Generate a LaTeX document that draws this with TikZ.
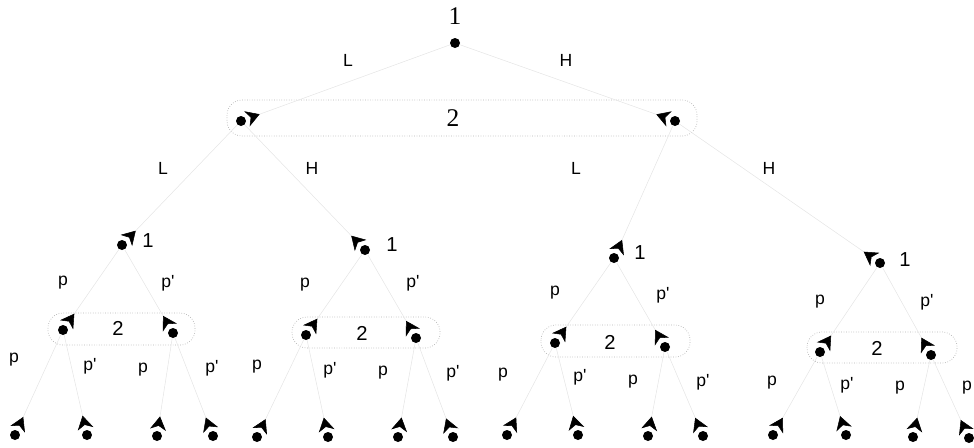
\documentclass[tikz,border=0pt]{standalone}
\usepackage{fontspec}
\setmainfont{Liberation Sans}
\newfontfamily\numserif{Liberation Serif}
\usetikzlibrary{arrows.meta}

\begin{document}
\begin{tikzpicture}[x=0.02cm, y=-0.02cm,
    vtx/.style={circle, fill, inner sep=0pt, minimum size=2mm},
    branch/.style={black!10, line width=0.3pt, -{Stealth[reversed, color=black, length=2.7mm, width=3.2mm, inset=0.8mm, sep=0.2mm]}},
    lab/.style={font=\fontsize{10}{12}\selectfont, inner sep=1pt},
    pl/.style={font=\fontsize{11.5}{13}\selectfont, inner sep=1pt},
    toppl/.style={font=\numserif\fontsize{14.5}{16}\selectfont, inner sep=1pt},
    infoset/.style={draw=black!30, densely dotted, rounded corners=3mm}
]
\useasboundingbox (0,0) rectangle (974,447);

% information sets
\draw[infoset] (227,100) rectangle (697,136);
\draw[infoset] (48,313) rectangle (195,345);
\draw[infoset] (292,317) rectangle (440,348);
\draw[infoset] (541,325) rectangle (690,357);
\draw[infoset] (807,332) rectangle (957,363);

% decision nodes
\node[vtx] (v) at (455,43) {};
\node[vtx] (vL) at (241,121) {};
\node[vtx] (vH) at (675,121) {};
\node[vtx] (vLL) at (122,245) {};
\node[vtx] (vLH) at (365,250) {};
\node[vtx] (vHL) at (614,258) {};
\node[vtx] (vHH) at (880,263) {};
\node[vtx] (vLLp) at (63,330) {};
\node[vtx] (vLLq) at (173,333) {};
\node[vtx] (vLHp) at (306,335) {};
\node[vtx] (vLHq) at (416,338) {};
\node[vtx] (vHLp) at (555,343) {};
\node[vtx] (vHLq) at (665,347) {};
\node[vtx] (vHHp) at (820,352) {};
\node[vtx] (vHHq) at (931,355) {};

% end nodes
\node[vtx] (vLLpp) at (15,435) {};
\node[vtx] (vLLpq) at (87,435) {};
\node[vtx] (vLLqp) at (157,436) {};
\node[vtx] (vLLqq) at (213,436) {};
\node[vtx] (vLHpp) at (257,437) {};
\node[vtx] (vLHpq) at (328,437) {};
\node[vtx] (vLHqp) at (398,437) {};
\node[vtx] (vLHqq) at (453,437) {};
\node[vtx] (vHLpp) at (507,435) {};
\node[vtx] (vHLpq) at (578,435) {};
\node[vtx] (vHLqp) at (648,436) {};
\node[vtx] (vHLqq) at (703,436) {};
\node[vtx] (vHHpp) at (773,435) {};
\node[vtx] (vHHpq) at (846,435) {};
\node[vtx] (vHHqp) at (913,437) {};
\node[vtx] (vHHqq) at (969,438) {};

% branches
\draw[branch] (v) -- (vL);
\draw[branch] (v) -- (vH);
\draw[branch] (vL) -- (vLL);
\draw[branch] (vL) -- (vLH);
\draw[branch] (vH) -- (vHL);
\draw[branch] (vH) -- (vHH);
\draw[branch] (vLL) -- (vLLp);
\draw[branch] (vLL) -- (vLLq);
\draw[branch] (vLH) -- (vLHp);
\draw[branch] (vLH) -- (vLHq);
\draw[branch] (vHL) -- (vHLp);
\draw[branch] (vHL) -- (vHLq);
\draw[branch] (vHH) -- (vHHp);
\draw[branch] (vHH) -- (vHHq);
\draw[branch] (vLLp) -- (vLLpp);
\draw[branch] (vLLp) -- (vLLpq);
\draw[branch] (vLLq) -- (vLLqp);
\draw[branch] (vLLq) -- (vLLqq);
\draw[branch] (vLHp) -- (vLHpp);
\draw[branch] (vLHp) -- (vLHpq);
\draw[branch] (vLHq) -- (vLHqp);
\draw[branch] (vLHq) -- (vLHqq);
\draw[branch] (vHLp) -- (vHLpp);
\draw[branch] (vHLp) -- (vHLpq);
\draw[branch] (vHLq) -- (vHLqp);
\draw[branch] (vHLq) -- (vHLqq);
\draw[branch] (vHHp) -- (vHHpp);
\draw[branch] (vHHp) -- (vHHpq);
\draw[branch] (vHHq) -- (vHHqp);
\draw[branch] (vHHq) -- (vHHqq);

% players
\node[toppl] (t1) at (455,16) {1};
\node[toppl] (t2) at (453,118) {2};
\node[pl] (tLL) at (148,241) {1};
\node[pl] (tLH) at (392,245) {1};
\node[pl] (tHL) at (640,253) {1};
\node[pl] (tHH) at (905,260) {1};
\node[pl] (uLL) at (118,328) {2};
\node[pl] (uLH) at (362,333) {2};
\node[pl] (uHL) at (610,342) {2};
\node[pl] (uHH) at (877,348) {2};

% actions
\node[lab] (aL) at (348,60) {L};
\node[lab] (aH) at (566,60) {H};
\node[lab] (aLL) at (163,168) {L};
\node[lab] (aLH) at (312,168) {H};
\node[lab] (aHL) at (576,168) {L};
\node[lab] (aHH) at (769,168) {H};
\node[lab] (bLLp) at (63,283) {p};
\node[lab] (bLLq) at (168,283) {p\textquotesingle};
\node[lab] (bLHp) at (305,285) {p};
\node[lab] (bLHq) at (413,283) {p\textquotesingle};
\node[lab] (bHLp) at (555,293) {p};
\node[lab] (bHLq) at (663,295) {p\textquotesingle};
\node[lab] (bHHp) at (820,302) {p};
\node[lab] (bHHq) at (927,302) {p\textquotesingle};
\node[lab] (cLLpp) at (14,360) {p};
\node[lab] (cLLpq) at (90,366) {p\textquotesingle};
\node[lab] (cLLqp) at (143,370) {p};
\node[lab] (cLLqq) at (212,368) {p\textquotesingle};
\node[lab] (cLHpp) at (257,367) {p};
\node[lab] (cLHpq) at (330,370) {p\textquotesingle};
\node[lab] (cLHqp) at (383,373) {p};
\node[lab] (cLHqq) at (453,373) {p\textquotesingle};
\node[lab] (cHLpp) at (503,375) {p};
\node[lab] (cHLpq) at (580,377) {p\textquotesingle};
\node[lab] (cHLqp) at (633,382) {p};
\node[lab] (cHLqq) at (703,382) {p\textquotesingle};
\node[lab] (cHHpp) at (772,383) {p};
\node[lab] (cHHpq) at (847,385) {p\textquotesingle};
\node[lab] (cHHqp) at (900,388) {p};
\node[lab] (cHHqq) at (967,388) {p};
\end{tikzpicture}
\end{document}
